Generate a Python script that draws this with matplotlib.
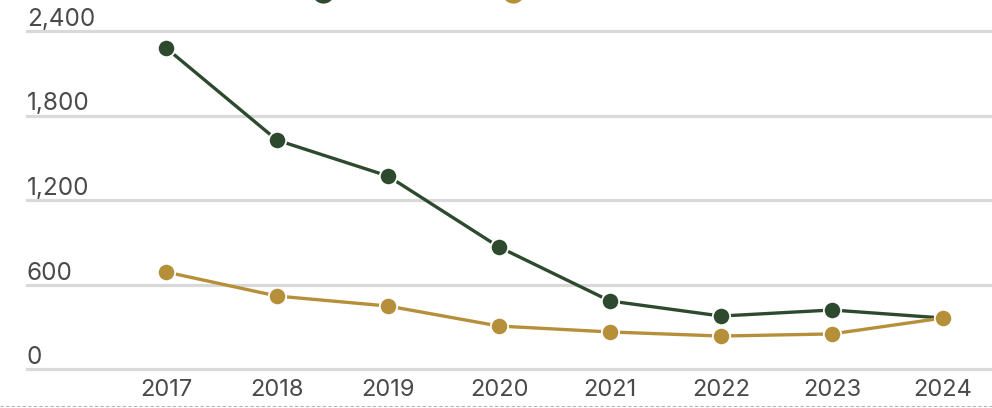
import matplotlib
matplotlib.use("Agg")
import matplotlib.pyplot as plt
from matplotlib.lines import Line2D
from matplotlib import transforms

years = [2017, 2018, 2019, 2020, 2021, 2022, 2023, 2024]
series_green = [2280, 1625, 1370, 866, 483, 376, 419, 362]
series_gold = [689, 518, 447, 305, 263, 234, 249, 362]
y_ticks = [0, 600, 1200, 1800, 2400]
y_labels = ["0", "600", "1,200", "1,800", "2,400"]

green = "#2d4a2e"
gold = "#b68f3a"
grid_col = "#d9d9d9"
text_col = "#4a4a4a"

plt.rcParams["font.family"] = ["Inter", "DejaVu Sans"]

fig = plt.figure(figsize=(9.92, 4.08), dpi=100)
ax = fig.add_axes([27 / 992, (408 - 369) / 408, 1 - 27 / 992, (369 - 31) / 408])

ax.set_xlim(2017 - 139 / 111, 2024 + 49 / 111)
ax.set_ylim(0, 2400)

for v in y_ticks:
    ax.axhline(v, color=grid_col, lw=2.3, zorder=0, clip_on=False)

off = transforms.offset_copy(ax.get_yaxis_transform(), fig=fig, x=0, y=5, units="dots")
for v, lab in zip(y_ticks, y_labels):
    ax.text(0.0, v, lab, transform=off, ha="left", va="baseline",
            fontsize=17.5, color=text_col)

ax.plot(years, series_green, color=green, lw=2.4, marker="o", ms=12.5,
        mfc=green, mec="white", mew=1.3, zorder=3, clip_on=False)
ax.plot(years, series_gold, color=gold, lw=2.4, marker="o", ms=12.5,
        mfc=gold, mec="white", mew=1.3, zorder=4, clip_on=False)

ax.set_xticks(years)
ax.set_xticklabels([str(y) for y in years], fontsize=17, color=text_col)
ax.tick_params(axis="x", length=0, pad=7)
ax.set_yticks([])
for s in ax.spines.values():
    s.set_visible(False)

# legend markers, cut off at top edge
for xpx, c in [(323, green), (513, gold)]:
    fig.add_artist(Line2D([xpx / 992], [(408 + 8) / 408], marker="o", ms=17,
                          color=c, mec="white", mew=1, transform=fig.transFigure))

# dotted line at bottom
fig.add_artist(Line2D([0, 1], [(408 - 406) / 408] * 2, color="#b5b5b5", lw=0.8,
                      ls=(0, (3, 2)), transform=fig.transFigure))

fig.savefig("out.png", dpi=100)
